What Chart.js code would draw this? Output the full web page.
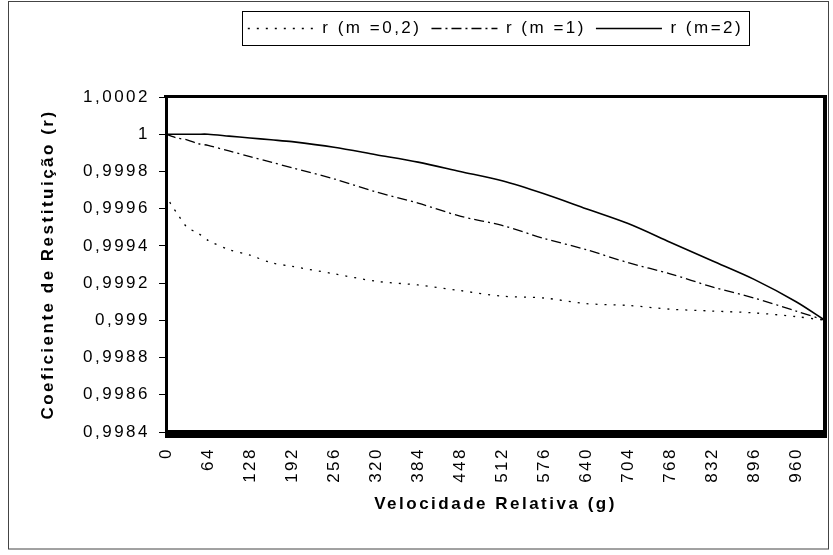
<!DOCTYPE html>
<html>
<head>
<meta charset="utf-8">
<script src="https://cdn.jsdelivr.net/npm/chart.js@4.4.1/dist/chart.umd.min.js"></script>
<style>
html,body{margin:0;padding:0;background:#fff;}
#wrap{position:relative;width:833px;height:555px;}
</style>
</head>
<body>
<div id="wrap"><canvas id="chart" width="833" height="555"></canvas></div>
<script>
// ---- data ----
const velocity = [0, 8, 16, 32, 48, 64, 96, 128, 160, 192, 256, 320, 384, 448, 512, 576, 640, 704, 768, 832, 896, 960, 1004];
const rM02 = [0.99968, 0.99962, 0.99958, 0.99950, 0.99947, 0.99943, 0.99938, 0.99935, 0.99931, 0.99929,
              0.99925, 0.99921, 0.99919, 0.99916, 0.99913, 0.99912, 0.99909, 0.99908, 0.99906, 0.99905, 0.99904, 0.99902, 0.99900];
const rM1  = [1.00000, 0.99999, 0.99998, 0.99997, 0.99995, 0.99994, 0.99991, 0.99988, 0.99985, 0.99982,
              0.99976, 0.99969, 0.99963, 0.99956, 0.99951, 0.99944, 0.99938, 0.99931, 0.99925, 0.99918, 0.99912, 0.99905, 0.99900];
const rM2  = [1.00000, 1.00000, 1.00000, 1.00000, 1.00000, 1.00000, 0.99999, 0.99998, 0.99997, 0.99996,
              0.99993, 0.99989, 0.99985, 0.99980, 0.99975, 0.99968, 0.99960, 0.99952, 0.99942, 0.99932, 0.99922, 0.99910, 0.99900];
const seriesNames = ['r (m =0,2)', 'r (m =1)', 'r (m=2)'];
const xTickValues = [0, 64, 128, 192, 256, 320, 384, 448, 512, 576, 640, 704, 768, 832, 896, 960];
const xMax = 1004;
const yMin = 0.9984, yMax = 1.0002, yStep = 0.0002;

const FONT = "'Liberation Sans', Arial, sans-serif";
const SPACING = '2.5px';
const pts = arr => velocity.map((v, i) => ({x: v, y: arr[i]}));

// ---- frame, tick band, legend box ----
const framePlugin = {
  id: 'frame',
  beforeLayout(chart){ chart.ctx.letterSpacing = SPACING; },
  beforeDraw(chart){ chart.ctx.letterSpacing = SPACING; },
  afterDraw(chart){
    const {ctx, chartArea: a} = chart;
    ctx.save();
    ctx.fillStyle = '#000';
    ctx.fillRect(a.left - 2, a.top - 2, a.right - a.left + 4, 3);   // top edge
    ctx.fillRect(a.right - 2, a.top - 2, 4, a.bottom - a.top + 2);  // right edge
    ctx.fillRect(a.left - 1, a.bottom - 2, a.right - a.left + 3, 8); // dense category ticks
    const hb = chart.legend.legendHitBoxes;
    if (hb && hb.length) {
      const l = hb[0].left - 6;
      const last = hb[hb.length - 1];
      const r = last.left + last.width + 6;
      ctx.strokeStyle = '#000';
      ctx.lineWidth = 1;
      ctx.strokeRect(Math.round(l) + 0.5, hb[0].top - 8.5, Math.round(r - l), 34);
    }
    ctx.strokeStyle = '#444';
    ctx.strokeRect(8.5, 1.5, 820, 547.5);
    ctx.restore();
  }
};

new Chart(document.getElementById('chart'), {
  type: 'line',
  data: {
    datasets: [
      {label: seriesNames[0], data: pts(rM02), borderColor: '#000', borderWidth: 1.3, borderDash: [2, 7], pointRadius: 0, tension: 0.3, xAxisID: 'x', yAxisID: 'y'},
      {label: seriesNames[1], data: pts(rM1), borderColor: '#000', borderWidth: 1.3, borderDash: [10, 4, 2, 4], pointRadius: 0, tension: 0.3, xAxisID: 'x', yAxisID: 'y'},
      {label: seriesNames[2], data: pts(rM2), borderColor: '#000', borderWidth: 1.6, borderDash: [], pointRadius: 0, tension: 0.3, xAxisID: 'x', yAxisID: 'y'}
    ]
  },
  options: {
    responsive: false,
    animation: false,
    layout: {padding: {left: 10, right: 8, top: 10, bottom: 10}},
    plugins: {
      tooltip: {enabled: false},
      legend: {
        position: 'top',
        fullSize: false,
        labels: {
          usePointStyle: true, pointStyle: 'line', pointStyleWidth: 66,
          padding: 10, color: '#000', font: {family: FONT, size: 17},
          generateLabels: chart => Chart.defaults.plugins.legend.labels.generateLabels(chart).map(it => {
            const ds = chart.data.datasets[it.datasetIndex];
            return {...it, lineDash: ds.borderDash, lineWidth: ds.borderWidth, strokeStyle: ds.borderColor};
          })
        }
      }
    },
    scales: {
      x: {
        type: 'linear', position: 'bottom', min: 0, max: xMax,
        afterFit: s => { s.height = 113; },
        afterBuildTicks: s => { s.ticks = xTickValues.map(v => ({value: v})); },
        grid: {display: false, drawTicks: false},
        border: {display: false},
        ticks: {autoSkip: false, minRotation: 90, maxRotation: 90, padding: 15, color: '#000',
                font: {family: FONT, size: 17}, callback: v => String(v)},
        title: {display: true, text: 'Velocidade Relativa (g)', color: '#000',
                font: {family: FONT, size: 17, weight: 'bold'}, padding: {top: 0, bottom: 30}}
      },
      xTop: {
        type: 'linear', position: 'top', display: true,
        afterFit: s => { s.height = 50; },
        grid: {display: false, drawTicks: false},
        border: {display: false},
        ticks: {display: false}
      },
      y: {
        min: yMin, max: yMax,
        afterFit: s => { s.width = 156; },
        grid: {drawOnChartArea: false, tickLength: 7, color: '#000', tickColor: '#000', lineWidth: 1},
        border: {display: true, width: 3, color: '#000'},
        ticks: {stepSize: yStep, padding: 9, color: '#000', font: {family: FONT, size: 17},
                callback: v => String(Number(v.toFixed(4))).replace('.', ',')},
        title: {display: true, text: 'Coeficiente de Restituição (r)', color: '#000',
                font: {family: FONT, size: 17, weight: 'bold'}, padding: {top: 28, bottom: 0}}
      }
    }
  },
  plugins: [framePlugin]
});
</script>
</body>
</html>
